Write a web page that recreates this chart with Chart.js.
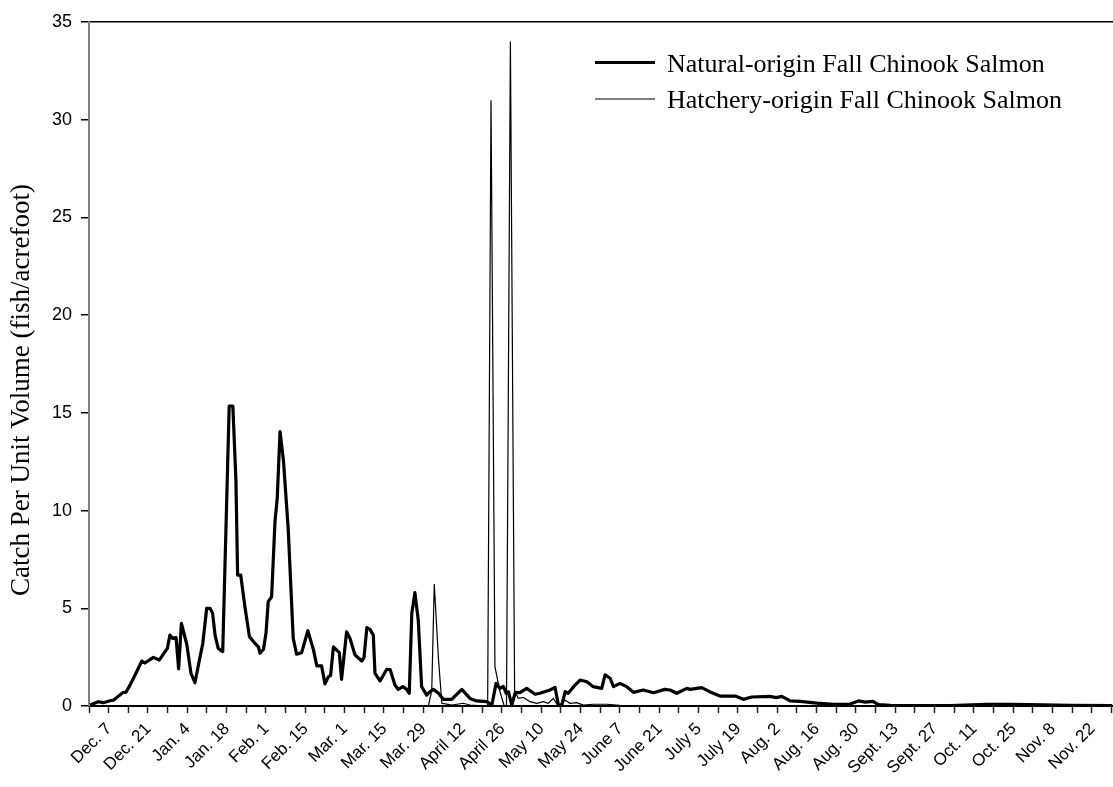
<!DOCTYPE html>
<html>
<head>
<meta charset="utf-8">
<script src="https://cdn.jsdelivr.net/npm/chart.js@4.4.1/dist/chart.umd.min.js"></script>
<style>
  html, body { margin: 0; padding: 0; background: #fff; }
  #wrap { width: 1113px; height: 787px; position: relative; }
</style>
</head>
<body>
<div id="wrap"><canvas id="c" width="1113" height="787"></canvas></div>
<script>
// ---- Data (day index counted from Dec. 7) ----
const xLabels = ['Dec. 7','Dec. 21','Jan. 4','Jan. 18','Feb. 1','Feb. 15','Mar. 1','Mar. 15','Mar. 29',
  'April 12','April 26','May 10','May 24','June 7','June 21','July 5','July 19','Aug. 2','Aug. 16',
  'Aug. 30','Sept. 13','Sept. 27','Oct. 11','Oct. 25','Nov. 8','Nov. 22'];
const weekTicks = [0,7,14,21,28,35,42,49,56,63,70,77,84,91,98,105,112,119,126,133,140,147,154,161,168,175,
  182,189,196,203,210,217,224,231,238,245,252,259,266,273,280,287,294,301,308,315,322,329,336,343,350,357,364];
const yTicks = [0,5,10,15,20,25,30,35];

const seriesNames = ['Natural-origin Fall Chinook Salmon', 'Hatchery-origin Fall Chinook Salmon'];
const yTitle = 'Catch Per Unit Volume (fish/acrefoot)';

const naturalDays = [0.4,3.3,5.1,7.5,8.7,12.2,13.1,14.6,16.4,18.8,19.9,22.9,25.0,27.9,28.8,29.8,31.0,31.9,32.9,34.8,
  36.3,37.7,39.3,40.5,41.9,43.1,44.0,44.9,46.0,47.6,49.9,51.2,52.3,52.9,54.0,55.5,57.1,59.1,60.3,60.9,
  62.1,63.0,63.8,65.0,66.2,67.0,68.0,69.2,70.9,72.7,73.9,75.7,77.9,79.9,81.1,82.8,84.0,85.2,86.0,87.0,
  89.1,89.9,91.7,92.9,94.7,97.1,97.9,98.9,100.0,101.2,101.8,103.6,106.0,107.2,108.9,110.1,111.7,113.1,114.0,114.9,
  116.0,117.2,118.4,120.2,121.4,122.6,124.4,126.1,129.1,132.7,135.6,138.0,141.6,143.4,144.9,146.3,147.5,148.5,149.3,150.5,
  151.7,153.4,155.8,158.8,160.5,164.1,165.9,167.1,168.3,169.5,170.6,173.0,174.8,177.2,179.5,182.5,183.7,185.5,186.7,189.0,
  191.4,193.8,197.3,200.9,205.0,206.8,209.2,212.8,214.0,218.1,221.1,224.6,230.0,232.9,235.9,242.4,244.6,246.6,249.6,253.1,
  259.1,265.0,270.9,273.9,276.3,279.0,281.0,285.2,292.3,306.5,319.7,327.9,339.6,349.2,364.2];
const naturalValues = [0.05,0.22,0.17,0.27,0.3,0.7,0.69,1.07,1.59,2.3,2.2,2.49,2.35,2.95,3.63,3.46,3.5,1.9,4.23,3.16,
  1.67,1.19,2.35,3.2,5.0,5.0,4.74,3.6,2.95,2.78,15.35,15.35,11.56,6.7,6.7,5.08,3.55,3.2,3.03,2.7,
  2.9,3.72,5.34,5.59,9.43,10.63,14.04,12.59,9.09,3.46,2.65,2.73,3.85,2.87,2.05,2.05,1.13,1.5,1.56,3.03,
  2.73,1.36,3.8,3.46,2.61,2.3,2.49,4.01,3.92,3.63,1.67,1.28,1.88,1.86,1.07,0.85,0.99,0.85,0.65,4.74,
  5.8,4.4,0.99,0.56,0.73,0.85,0.65,0.34,0.34,0.85,0.39,0.26,0.22,0.05,1.16,0.9,1.0,0.65,0.73,0.05,
  0.68,0.68,0.9,0.6,0.65,0.82,0.95,0.05,0.05,0.73,0.65,1.07,1.33,1.24,0.99,0.9,1.59,1.42,0.99,1.16,
  0.99,0.7,0.82,0.68,0.85,0.82,0.65,0.9,0.85,0.94,0.72,0.51,0.51,0.34,0.46,0.49,0.43,0.49,0.26,0.24,
  0.15,0.09,0.1,0.26,0.2,0.24,0.07,0.03,0.02,0.02,0.08,0.09,0.06,0.03,0.02];

const hatcheryDays = [114.3,120.8,122.0,122.9,124.4,125.6,127.3,129.1,133.2,135.6,141.0,141.9,143.1,144.5,146.3,147.8,148.6,150.0,151.5,152.8,
  154.6,157.0,159.4,161.7,163.5,165.3,167.0,169.5,171.2,173.6,176.0,179.5,184.3,187.8,191.4];
const hatcheryValues = [0,0,0.8,6.24,2.4,0.14,0.1,0.05,0.14,0.05,0,0,31,2.0,0.73,0,0,34,0.8,0.39,
  0.44,0.22,0.14,0.22,0.14,0.39,0,0.3,0.14,0.17,0.05,0.09,0.09,0.05,0];

const toPoints = (xs, ys) => xs.map((x, i) => ({ x: x, y: ys[i] }));

const overlay = {
  id: 'overlay',
  afterDraw(chart) {
    const { ctx, chartArea: a } = chart;
    ctx.save();
    ctx.fillStyle = '#000';
    ctx.translate(22, a.top + (a.bottom - a.top) * 0.538);
    ctx.rotate(-Math.PI / 2);
    ctx.font = '27px "Liberation Serif"';
    ctx.textAlign = 'center';
    ctx.textBaseline = 'middle';
    ctx.fillText(yTitle, 0, 0);
    ctx.restore();

    ctx.save();
    chart.data.datasets.forEach((ds, i) => {
      const ly = a.top + 40.5 + i * 36.5;
      ctx.beginPath();
      ctx.strokeStyle = ds.borderColor;
      ctx.lineWidth = ds.borderWidth;
      ctx.moveTo(a.left + 506, ly);
      ctx.lineTo(a.left + 566, ly);
      ctx.stroke();
      ctx.fillStyle = '#000';
      ctx.font = '26px "Liberation Serif"';
      ctx.textAlign = 'left';
      ctx.textBaseline = 'alphabetic';
      ctx.fillText(ds.label, a.left + 578, ly + 9.3);
    });
    ctx.restore();
  }
};

new Chart(document.getElementById('c'), {
  type: 'line',
  data: {
    datasets: [
      { label: seriesNames[0], data: toPoints(naturalDays, naturalValues), borderColor: '#000', borderWidth: 3.2,
        pointRadius: 0, tension: 0, borderJoinStyle: 'round', fill: false, order: 2 },
      { label: seriesNames[1], data: toPoints(hatcheryDays, hatcheryValues), borderColor: '#000', borderWidth: 1.2,
        pointRadius: 0, tension: 0, fill: false, order: 1 }
    ]
  },
  options: {
    responsive: false,
    animation: false,
    devicePixelRatio: 1,
    layout: { padding: { top: 22, right: 0, bottom: 0, left: 0 } },
    plugins: { legend: { display: false }, tooltip: { enabled: false } },
    scales: {
      x: {
        type: 'linear', position: 'bottom', min: 0, max: 364.5,
        afterBuildTicks: (s) => { s.ticks = weekTicks.map(v => ({ value: v })); },
        afterFit: (s) => { s.height = 81; s.paddingLeft = 0; s.paddingRight = 0; },
        border: { display: true, color: '#000', width: 2 },
        grid: { drawOnChartArea: false, drawTicks: true, tickLength: 7, tickColor: '#222', tickWidth: 1.5 },
        ticks: {
          autoSkip: false, minRotation: 45, maxRotation: 45, labelOffset: 20, padding: 6,
          color: '#000', font: { family: '"Liberation Sans"', size: 17 },
          callback: (v, i) => (i % 2 === 0 ? (xLabels[i / 2] || '') : '')
        }
      },
      y: {
        min: 0, max: 35,
        afterBuildTicks: (s) => { s.ticks = yTicks.map(v => ({ value: v })); },
        afterFit: (s) => { s.width = 89; s.paddingTop = 0; s.paddingBottom = 0; },
        border: { display: true, color: '#808080', width: 2 },
        grid: {
          drawOnChartArea: true, drawTicks: true, tickLength: 8, tickColor: '#000', tickWidth: 1.5,
          color: (c) => (c.tick && c.tick.value === 35 ? '#000' : 'rgba(0,0,0,0)'), lineWidth: 1.5
        },
        ticks: { padding: 9, color: '#000', font: { family: '"Liberation Sans"', size: 18 } }
      }
    }
  },
  plugins: [overlay]
});
</script>
</body>
</html>
